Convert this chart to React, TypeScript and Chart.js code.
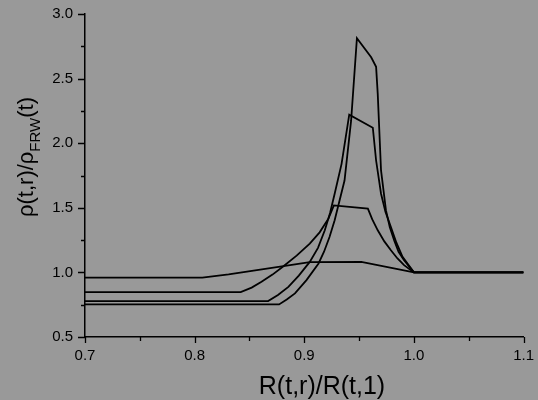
import React, { useEffect, useRef } from "react";
import { Chart, registerables } from "chart.js";

Chart.register(...registerables);

// Curve with the smallest bump (peak ~1.08)
const xA = [0.7, 0.807, 0.831, 0.881, 0.905, 0.952, 1.0, 1.1];
const yA = [0.96, 0.96, 0.984, 1.048, 1.08, 1.081, 1.0, 1.0];

// Curve with peak ~1.51
const xB = [0.7, 0.842, 0.852, 0.861, 0.871, 0.881, 0.893, 0.905, 0.914, 0.922, 0.927, 0.958, 0.962, 0.967, 0.973, 0.979, 0.985, 0.991, 1.0, 1.1];
const yB = [0.847, 0.847, 0.882, 0.927, 0.983, 1.048, 1.13, 1.223, 1.31, 1.416, 1.519, 1.493, 1.41, 1.326, 1.24, 1.171, 1.108, 1.056, 1.0, 1.0];

// Curve with peak ~2.22
const xC = [0.7, 0.867, 0.876, 0.8855, 0.895, 0.905, 0.9125, 0.9187, 0.9235, 0.9277, 0.934, 0.941, 0.9625, 0.9655, 0.97, 0.974, 0.979, 0.984, 0.9896, 1.0, 1.1];
const yC = [0.778, 0.778, 0.825, 0.888, 0.975, 1.081, 1.19, 1.326, 1.46, 1.609, 1.84, 2.221, 2.12, 1.866, 1.609, 1.47, 1.351, 1.23, 1.12, 1.0, 1.0];

// Curve with peak ~2.81
const xD = [0.7, 0.877, 0.884, 0.8915, 0.902, 0.913, 0.918, 0.923, 0.9277, 0.9367, 0.9427, 0.948, 0.961, 0.9655, 0.967, 0.97, 0.9745, 0.978, 0.982, 0.986, 0.991, 1.0, 1.1];
const yD = [0.752, 0.752, 0.79, 0.837, 0.94, 1.069, 1.16, 1.274, 1.403, 1.711, 2.174, 2.812, 2.665, 2.591, 2.38, 1.789, 1.48, 1.35, 1.248, 1.16, 1.094, 1.0, 1.0];

const X_MIN = 0.7, X_MAX = 1.1, X_STEP = 0.1;
const Y_MIN = 0.5, Y_MAX = 3.0, Y_STEP = 0.5;

const X_TITLE = "R(t,r)/R(t,1)";
const Y_TITLE_MAIN = "ρ(t,r)/ρ";
const Y_TITLE_SUB = "FRW";
const Y_TITLE_END = "(t)";

const BG = "#999999";
const FONT = '"Liberation Sans", Arial, sans-serif';

export default function App() {
  const ref = useRef<HTMLCanvasElement>(null);

  useEffect(() => {
    document.body.style.margin = "0";
    document.body.style.background = BG;
    const toPts = (xs: number[], ys: number[]) => xs.map((x, i) => ({ x, y: ys[i] }));
    const series = [toPts(xA, yA), toPts(xB, yB), toPts(xC, yC), toPts(xD, yD)];

    const deco = {
      id: "deco",
      beforeDraw(chart: any) {
        const ctx = chart.ctx;
        ctx.save();
        ctx.fillStyle = BG;
        ctx.fillRect(0, 0, chart.width, chart.height);
        ctx.restore();
      },
      afterDraw(chart: any) {
        const ctx = chart.ctx;
        const xs = chart.scales.x;
        const ys = chart.scales.y;
        const area = chart.chartArea;
        ctx.save();
        ctx.strokeStyle = "#000";
        ctx.lineWidth = 1.3;
        const xt = xs.ticks.map((t: any) => t.value);
        ctx.beginPath();
        xt.forEach((v: number, i: number) => {
          const p = Math.round(xs.getPixelForValue(v)) + 0.5;
          ctx.moveTo(p, area.bottom);
          ctx.lineTo(p, area.bottom + 6);
          if (i < xt.length - 1) {
            const m = Math.round(xs.getPixelForValue((v + xt[i + 1]) / 2)) + 0.5;
            ctx.moveTo(m, area.bottom);
            ctx.lineTo(m, area.bottom + 4);
          }
        });
        const yt = ys.ticks.map((t: any) => t.value);
        yt.forEach((v: number, i: number) => {
          const p = Math.round(ys.getPixelForValue(v)) + 0.5;
          ctx.moveTo(area.left, p);
          ctx.lineTo(area.left - 7, p);
          if (i < yt.length - 1) {
            const m = Math.round(ys.getPixelForValue((v + yt[i + 1]) / 2)) + 0.5;
            ctx.moveTo(area.left, m);
            ctx.lineTo(area.left - 4, m);
          }
        });
        ctx.stroke();

        ctx.fillStyle = "#000";
        ctx.font = `25px ${FONT}`;
        ctx.textAlign = "center";
        ctx.textBaseline = "alphabetic";
        ctx.fillText(X_TITLE, 322, 394);

        ctx.textAlign = "left";
        const mainFont = `22px ${FONT}`;
        const subFont = `15px ${FONT}`;
        ctx.font = mainFont;
        const w1 = ctx.measureText(Y_TITLE_MAIN).width;
        const w3 = ctx.measureText(Y_TITLE_END).width;
        ctx.font = subFont;
        const w2 = ctx.measureText(Y_TITLE_SUB).width;
        const total = w1 + w2 + w3;
        ctx.translate(32.5, 157 + total / 2);
        ctx.rotate(-Math.PI / 2);
        ctx.font = mainFont;
        ctx.fillText(Y_TITLE_MAIN, 0, 0);
        ctx.font = subFont;
        ctx.fillText(Y_TITLE_SUB, w1, 7);
        ctx.font = mainFont;
        ctx.fillText(Y_TITLE_END, w1 + w2, 0);
        ctx.restore();
      },
    };

    const tickFont = { family: FONT, size: 15 };
    const chart = new Chart(ref.current as HTMLCanvasElement, {
      type: "line",
      data: {
        datasets: series.map((d) => ({
          data: d,
          borderColor: "#000",
          borderWidth: 1.8,
          pointRadius: 0,
          tension: 0,
          fill: false,
        })),
      },
      options: {
        responsive: false,
        animation: false,
        parsing: false as any,
        plugins: { legend: { display: false }, tooltip: { enabled: false } },
        layout: { padding: { left: 0, top: 13, right: 11, bottom: 0 } },
        scales: {
          x: {
            type: "linear",
            min: X_MIN,
            max: X_MAX,
            ticks: {
              stepSize: X_STEP,
              autoSkip: false,
              maxRotation: 0,
              color: "#000",
              font: tickFont,
              padding: 4,
              callback: (v: any) => Number(v).toFixed(1),
            },
            grid: { display: true, drawOnChartArea: false, drawTicks: true, tickLength: 6, tickColor: "rgba(0,0,0,0)" },
            border: { display: true, color: "#000", width: 1.5 },
            afterFit: (s: any) => { s.height = 63; },
          },
          y: {
            type: "linear",
            min: Y_MIN,
            max: Y_MAX,
            ticks: {
              stepSize: Y_STEP,
              autoSkip: false,
              color: "#000",
              font: tickFont,
              padding: 5,
              callback: (v: any) => Number(v).toFixed(1),
            },
            grid: { display: true, drawOnChartArea: false, drawTicks: true, tickLength: 7, tickColor: "rgba(0,0,0,0)" },
            border: { display: true, color: "#000", width: 1.5 },
            afterFit: (s: any) => { s.width = 85; },
          },
        },
      },
      plugins: [deco],
    });
    return () => chart.destroy();
  }, []);

  return <canvas ref={ref} width={538} height={400} style={{ display: "block" }} />;
}
